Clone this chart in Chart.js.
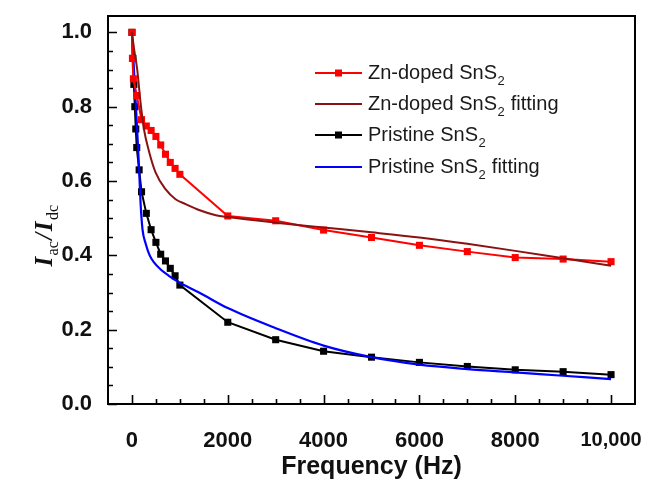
<!DOCTYPE html>
<html>
<head>
<meta charset="utf-8">
<script src="https://cdn.jsdelivr.net/npm/chart.js@4.4.1/dist/chart.umd.min.js"></script>
<style>
  html, body { margin: 0; padding: 0; background: #fff; }
</style>
</head>
<body>
<canvas id="chart" width="649" height="483"></canvas>
<script>
// values (Hz, I_ac/I_dc)
const znDopedFreq = [0, 10, 30, 100, 200, 300, 400, 500, 600, 700, 800, 900, 1000, 2000, 3000, 4000, 5000, 6000, 7000, 8000, 9000, 10000];
const znDopedVals = [1.0, 0.93, 0.875, 0.83, 0.765, 0.748, 0.736, 0.72, 0.697, 0.672, 0.65, 0.634, 0.618, 0.506, 0.493, 0.468, 0.448, 0.427, 0.41, 0.394, 0.39, 0.383];

const znFitFreq = [0, 50, 110, 180, 250, 355, 490, 700, 910, 1120, 1400, 1750, 2000, 3000, 4000, 5000, 6000, 7000, 8000, 9000, 10000];
const znFitVals = [1.0, 0.95, 0.90, 0.81, 0.74, 0.68, 0.624, 0.578, 0.551, 0.538, 0.522, 0.508, 0.503, 0.488, 0.475, 0.462, 0.448, 0.431, 0.412, 0.392, 0.372];

const pristineFreq = [0, 20, 40, 60, 80, 100, 150, 200, 300, 400, 500, 600, 700, 800, 900, 1000, 2000, 3000, 4000, 5000, 6000, 7000, 8000, 9000, 10000];
const pristineVals = [1.0, 0.93, 0.86, 0.80, 0.74, 0.69, 0.63, 0.571, 0.513, 0.469, 0.435, 0.403, 0.385, 0.365, 0.345, 0.320, 0.220, 0.173, 0.142, 0.126, 0.112, 0.101, 0.092, 0.087, 0.079];

const prFitFreq = [0, 50, 100, 150, 180, 220, 290, 370, 460, 600, 770, 1000, 1120, 1400, 2000, 3000, 4000, 5000, 6000, 7000, 8000, 9000, 10000];
const prFitVals = [0.995, 0.88, 0.76, 0.63, 0.54, 0.47, 0.43, 0.40, 0.381, 0.362, 0.345, 0.326, 0.318, 0.300, 0.258, 0.204, 0.157, 0.126, 0.106, 0.094, 0.085, 0.076, 0.067];

const seriesLabels = ['Zn-doped SnS₂', 'Zn-doped SnS₂ fitting', 'Pristine SnS₂', 'Pristine SnS₂ fitting'];
const seriesColors = ['#ff0000', '#8a1212', '#000000', '#0000ff'];

const xTicks = [0, 2000, 4000, 6000, 8000, 10000];
const xTickLabels = ['0', '2000', '4000', '6000', '8000', '10,000'];
const yTicks = [0, 0.2, 0.4, 0.6, 0.8, 1.0];
const yTickLabels = ['0.0', '0.2', '0.4', '0.6', '0.8', '1.0'];

const SANS = '"Liberation Sans", Arial, sans-serif';
const SERIF = '"Liberation Serif", "Times New Roman", serif';

const toPoints = (xs, ys) => xs.map((x, i) => ({ x: x, y: ys[i] }));

// frame, inward tick marks, y title and legend
const decorPlugin = {
    id: 'decor',
    afterDraw(chart) {
        const ctx = chart.ctx;
        const area = chart.chartArea;
        const xs = chart.scales.x;
        const ys = chart.scales.y;
        ctx.save();
        ctx.strokeStyle = '#000';
        ctx.lineWidth = 2;
        ctx.strokeRect(area.left, area.top, area.right - area.left, area.bottom - area.top);

        ctx.lineWidth = 1.6;
        ctx.beginPath();
        for (let v = 0; v <= 10000; v += 500) {
            const px = Math.round(xs.getPixelForValue(v)) + 0.5;
            const len = v % 2000 === 0 ? 9 : 5;
            ctx.moveTo(px, area.bottom);
            ctx.lineTo(px, area.bottom - len);
        }
        for (let i = 0; i <= 20; i++) {
            const v = i * 0.05;
            const py = Math.round(ys.getPixelForValue(v)) + 0.5;
            const len = i % 4 === 0 ? 9 : 5;
            ctx.moveTo(area.left, py);
            ctx.lineTo(area.left + len, py);
        }
        ctx.stroke();

        // y axis title I_ac / I_dc
        ctx.translate(42, 235);
        ctx.rotate(-Math.PI / 2);
        ctx.fillStyle = '#111';
        ctx.textBaseline = 'alphabetic';
        const parts = [
            { t: 'I', f: 'italic bold 25px ' + SERIF, dy: 10 },
            { t: 'ac', f: '16px ' + SERIF, dy: 16 },
            { t: '/', f: 'italic bold 25px ' + SERIF, dy: 10 },
            { t: 'I', f: 'italic bold 25px ' + SERIF, dy: 10 },
            { t: 'dc', f: '16px ' + SERIF, dy: 16 },
        ];
        let total = 0;
        parts.forEach(p => { ctx.font = p.f; p.w = ctx.measureText(p.t).width + 1.5; total += p.w; });
        let cx = -total / 2;
        parts.forEach(p => { ctx.font = p.f; ctx.fillText(p.t, cx, p.dy); cx += p.w; });
        ctx.setTransform(1, 0, 0, 1, 0, 0);

        // legend
        const lx0 = 315, lx1 = 362, tx = 368, rowY = [73, 104, 135, 167];
        chart.data.datasets.forEach((ds, i) => {
            const y = rowY[i];
            ctx.strokeStyle = ds.borderColor;
            ctx.lineWidth = 2;
            ctx.beginPath();
            ctx.moveTo(lx0, y);
            ctx.lineTo(lx1, y);
            ctx.stroke();
            if (ds.pointRadius > 0) {
                ctx.fillStyle = ds.borderColor;
                ctx.fillRect((lx0 + lx1) / 2 - 3.5, y - 3.5, 7, 7);
            }
            ctx.fillStyle = '#1a1a1a';
            ctx.textBaseline = 'middle';
            let x = tx;
            const segs = ds.label.split('₂');
            segs.forEach((s, k) => {
                ctx.font = '20px ' + SANS;
                ctx.fillText(s, x, y);
                x += ctx.measureText(s).width;
                if (k < segs.length - 1) {
                    ctx.font = '13px ' + SANS;
                    ctx.fillText('2', x + 0.5, y + 8);
                    x += ctx.measureText('2').width + 1;
                }
            });
        });
        ctx.restore();
    }
};

const datasets = [
    {
        label: seriesLabels[0],
        data: toPoints(znDopedFreq, znDopedVals),
        borderColor: seriesColors[0],
        backgroundColor: seriesColors[0],
        borderWidth: 2,
        pointStyle: 'rect',
        pointRadius: 5,
        pointBorderWidth: 0,
        tension: 0,
        order: 2,
    },
    {
        label: seriesLabels[1],
        data: toPoints(znFitFreq, znFitVals),
        borderColor: seriesColors[1],
        borderWidth: 2,
        pointRadius: 0,
        cubicInterpolationMode: 'monotone',
        order: 1,
    },
    {
        label: seriesLabels[2],
        data: toPoints(pristineFreq, pristineVals),
        borderColor: seriesColors[2],
        backgroundColor: seriesColors[2],
        borderWidth: 2,
        pointStyle: 'rect',
        pointRadius: 5,
        pointBorderWidth: 0,
        tension: 0,
        order: 4,
    },
    {
        label: seriesLabels[3],
        data: toPoints(prFitFreq, prFitVals),
        borderColor: seriesColors[3],
        borderWidth: 2.2,
        pointRadius: 0,
        cubicInterpolationMode: 'monotone',
        order: 3,
    },
];

new Chart(document.getElementById('chart'), {
    type: 'line',
    data: { datasets: datasets },
    options: {
        responsive: false,
        devicePixelRatio: 1,
        animation: false,
        layout: { padding: { top: 16, right: 14, left: 0, bottom: 0 } },
        plugins: { legend: { display: false }, tooltip: { enabled: false } },
        scales: {
            x: {
                type: 'linear',
                min: -500,
                max: 10500,
                grid: { display: false },
                border: { display: false },
                afterBuildTicks: (s) => { s.ticks = xTicks.map(v => ({ value: v })); },
                afterFit: (s) => { s.height = 79; s.paddingLeft = 0; s.paddingRight = 0; },
                ticks: {
                    padding: 16,
                    color: '#111',
                    maxRotation: 0,
                    font: (c) => ({ family: SANS, size: c.index === 5 ? 20 : 22, weight: 'bold' }),
                    callback: (v) => xTickLabels[xTicks.indexOf(v)],
                },
                title: {
                    display: true,
                    text: 'Frequency (Hz)',
                    color: '#111',
                    font: { family: SANS, size: 25, weight: 'bold' },
                    padding: { top: 0, bottom: 1 },
                },
            },
            y: {
                type: 'linear',
                min: 0,
                max: 1.044,
                grid: { display: false },
                border: { display: false },
                afterBuildTicks: (s) => { s.ticks = yTicks.map(v => ({ value: v })); },
                afterFit: (s) => { s.width = 108; s.paddingTop = 0; s.paddingBottom = 0; },
                ticks: {
                    padding: 8,
                    color: '#111',
                    font: { family: SANS, size: 22, weight: 'bold' },
                    callback: (v) => yTickLabels[yTicks.findIndex(t => Math.abs(t - v) < 1e-9)],
                },
            },
        },
    },
    plugins: [decorPlugin],
});
</script>
</body>
</html>
